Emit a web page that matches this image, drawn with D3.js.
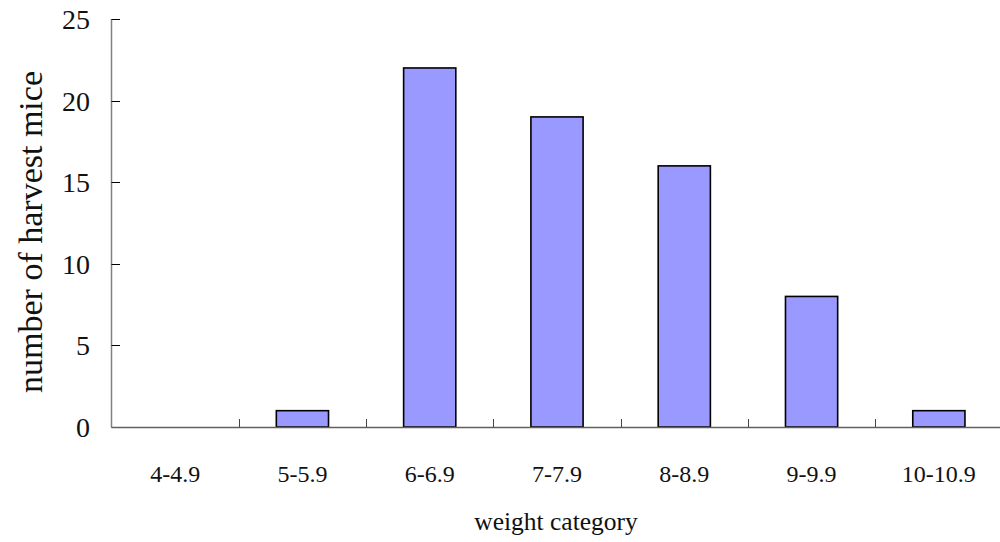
<!DOCTYPE html>
<html><head><meta charset="utf-8">
<script src="https://cdn.jsdelivr.net/npm/d3@7"></script>
<style>body{margin:0;background:#fff}svg{display:block}</style>
</head><body>
<svg id="c" width="1000" height="542"></svg>
<script>
const categories = ["4-4.9","5-5.9","6-6.9","7-7.9","8-8.9","9-9.9","10-10.9"];
const counts = [0,1,22,19,16,8,1];
const yTicks = [0,5,10,15,20,25];

const svg = d3.select("#c");
const font = "'Liberation Serif', 'Times New Roman', serif";
const x = d3.scaleBand().domain(categories).range([111.5, 1002.5]).paddingInner(0.59).paddingOuter(0.295);
const xb = d3.scaleBand().domain(categories).range([111.5, 1002.5]);
const y = d3.scaleLinear().domain([0,25]).range([427, 19]);

// bars
svg.append("g").selectAll("rect").data(categories.map((c,i)=>({c, v:counts[i]})).filter(d=>d.v>0))
  .join("rect")
  .attr("x", d => x(d.c))
  .attr("width", x.bandwidth())
  .attr("y", d => y(d.v))
  .attr("height", d => y(0) - y(d.v))
  .attr("fill", "#9999ff")
  .attr("stroke", "#000")
  .attr("stroke-width", 1.6);

// y axis
const gy = svg.append("g");
gy.append("line").attr("x1",111.5).attr("x2",111.5).attr("y1",y(25)).attr("y2",y(0)).attr("stroke","#808080").attr("stroke-width",1.5);
gy.selectAll("line.t").data(yTicks).join("line").attr("class","t")
  .attr("x1",111.5).attr("x2",120).attr("y1",d=>Math.round(y(d))+0.5).attr("y2",d=>Math.round(y(d))+0.5)
  .attr("stroke","#000").attr("stroke-width",1);
gy.selectAll("text").data(yTicks).join("text")
  .attr("x",90).attr("y",d=>y(d)+10)
  .attr("text-anchor","end").attr("font-family",font).attr("font-size",28).attr("fill","#111")
  .text(d=>d);

// x axis
const gx = svg.append("g");
gx.append("line").attr("x1",111.5).attr("x2",1002).attr("y1",427.5).attr("y2",427.5).attr("stroke","#606060").attr("stroke-width",1.5);
gx.selectAll("line.t").data(categories.slice(1)).join("line").attr("class","t")
  .attr("x1",d=>Math.round(xb(d))+0.5).attr("x2",d=>Math.round(xb(d))+0.5).attr("y1",427).attr("y2",419)
  .attr("stroke","#444").attr("stroke-width",1);
gx.selectAll("text").data(categories).join("text")
  .attr("x",d=>xb(d)+xb.bandwidth()/2).attr("y",482)
  .attr("text-anchor","middle").attr("font-family",font).attr("font-size",24).attr("fill","#111")
  .text(d=>d);

// titles
svg.append("text").attr("x",556).attr("y",530).attr("text-anchor","middle")
  .attr("font-family",font).attr("font-size",25.5).attr("fill","#111").text("weight category");
svg.append("text").attr("transform","translate(42,232) rotate(-90)").attr("text-anchor","middle")
  .attr("font-family",font).attr("font-size",34).attr("fill","#111").text("number of harvest mice");
</script>
</body></html>
